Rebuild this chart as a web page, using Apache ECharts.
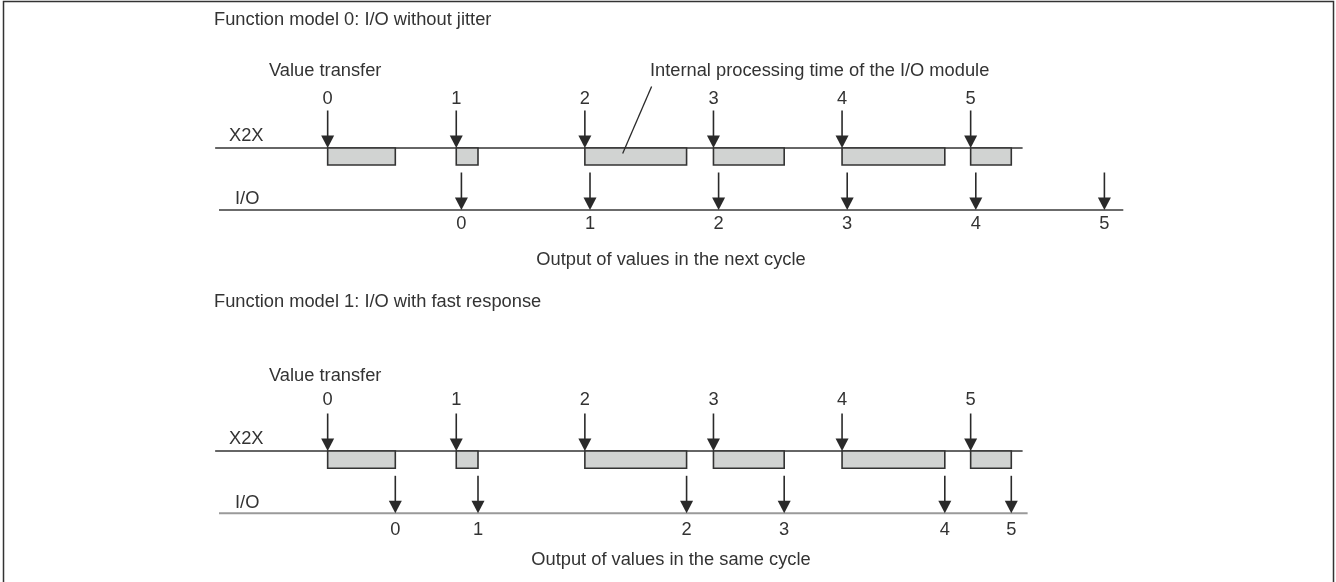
<!DOCTYPE html>
<html><head><meta charset="utf-8">
<script src="https://cdn.jsdelivr.net/npm/echarts@6/dist/echarts.min.js"></script>
<style>html,body{margin:0;padding:0;background:#fff}#c{width:1336px;height:582px}</style>
</head><body><div id="c"></div>
<script>
// ---- data (time in bus cycles; value transfer k happens at t = k) ----
const valueLabels = ['0', '1', '2', '3', '4', '5'];
const transferTimes = [0, 1, 2, 3, 4, 5];
const processingTimes = [0.526, 0.169, 0.791, 0.550, 0.799, 0.316];
const outputTimesModel0 = [1.04, 2.04, 3.04, 4.04, 5.04, 6.04];   // output in the next cycle
const outputTimesModel1 = [0.526, 1.169, 2.791, 3.550, 4.799, 5.316]; // output in the same cycle
const x2xSpan = [-0.875, 5.404];
const ioSpanModel0 = [-0.845, 6.187];
const ioSpanModel1 = [-0.845, 5.443];
const leaderTimes = [2.519, 2.294];
const titles = ['Function model 0: I/O without jitter', 'Function model 1: I/O with fast response'];
const notes = ['Output of values in the next cycle', 'Output of values in the same cycle'];
const processingNote = 'Internal processing time of the I/O module';

// ---- layout ----
const FONT = 'Liberation Sans, Arial, sans-serif';
const FS = 18.3;
const TXT = '#333333';
const INK = '#2a2a2a';
const panels = [
  {titleY: 20, vtY: 71, topNumY: 98.5, x2xLabelY: 136, x2xY: 148, boxBot: 165, ioLabelY: 198.5, ioY: 210, botNumY: 224, noteY: 260, ioColor: '#3a3a3a', ioWidth: 1.4},
  {titleY: 302, vtY: 376, topNumY: 400, x2xLabelY: 439, x2xY: 451, boxBot: 468.3, ioLabelY: 502.5, ioY: 513.3, botNumY: 530, noteY: 560, ioColor: '#9a9a9a', ioWidth: 2}
];
const ARROW_LEN = 37.5, HEAD_H = 12.5, HEAD_W = 13;

function txt(x, y, text, align) {
  return {type: 'text', style: {x: x, y: y, text: text, fill: TXT, fontSize: FS, fontFamily: FONT, align: align || 'center', verticalAlign: 'middle'}};
}

const laneData = [
  [x2xSpan[0], x2xSpan[1], 0, 0], [ioSpanModel0[0], ioSpanModel0[1], 0, 1],
  [x2xSpan[0], x2xSpan[1], 1, 0], [ioSpanModel1[0], ioSpanModel1[1], 1, 1]
];
const boxData = [];
const arrowData = [];
[0, 1].forEach(function (p) {
  transferTimes.forEach(function (t, i) {
    boxData.push([t, t + processingTimes[i], p]);
    arrowData.push([t, p, 0, i]);
  });
  (p === 0 ? outputTimesModel0 : outputTimesModel1).forEach(function (t, i) {
    arrowData.push([t, p, 1, i]);
  });
});

const chart = echarts.init(document.getElementById('c'), null, {renderer: 'canvas'});
chart.setOption({
  animation: false,
  backgroundColor: '#ffffff',
  grid: {left: 0, right: 0, top: 0, bottom: 0},
  xAxis: {type: 'value', min: -2.548, max: 7.841, show: false},
  yAxis: {type: 'value', min: 0, max: 582, inverse: true, show: false},
  graphic: [
    {type: 'polyline', silent: true, shape: {points: [[3.5, 582], [3.5, 1.5], [1333.5, 1.5], [1333.5, 582]]}, style: {stroke: '#333', lineWidth: 1.5, fill: null}},
    txt(214, panels[0].titleY, titles[0], 'left'),
    txt(214, panels[1].titleY, titles[1], 'left'),
    txt(269, panels[0].vtY, 'Value transfer', 'left'),
    txt(269, panels[1].vtY, 'Value transfer', 'left'),
    txt(229, panels[0].x2xLabelY, 'X2X', 'left'),
    txt(229, panels[1].x2xLabelY, 'X2X', 'left'),
    txt(235, panels[0].ioLabelY, 'I/O', 'left'),
    txt(235, panels[1].ioLabelY, 'I/O', 'left'),
    txt(671, panels[0].noteY, notes[0], 'center'),
    txt(671, panels[1].noteY, notes[1], 'center')
  ],
  series: [
    {
      type: 'custom', clip: false, silent: true, data: laneData,
      renderItem: function (params, api) {
        const p = panels[api.value(2)];
        const kind = api.value(3);
        const y = kind === 0 ? p.x2xY : p.ioY;
        const a = api.coord([api.value(0), y]), b = api.coord([api.value(1), y]);
        return {type: 'line', shape: {x1: a[0], y1: a[1], x2: b[0], y2: b[1]},
          style: {stroke: kind === 0 ? '#333' : p.ioColor, lineWidth: kind === 0 ? 1.3 : p.ioWidth}};
      }
    },
    {
      type: 'custom', clip: false, silent: true, data: boxData,
      renderItem: function (params, api) {
        const p = panels[api.value(2)];
        const a = api.coord([api.value(0), p.x2xY]), b = api.coord([api.value(1), p.boxBot]);
        return {type: 'rect', shape: {x: a[0], y: a[1], width: b[0] - a[0], height: b[1] - a[1]},
          style: {fill: '#d1d3d2', stroke: '#333', lineWidth: 1.6}};
      }
    },
    {
      type: 'custom', clip: false, silent: true, data: arrowData,
      renderItem: function (params, api) {
        const p = panels[api.value(1)];
        const kind = api.value(2);
        const label = valueLabels[api.value(3)];
        const tipY = kind === 0 ? p.x2xY : p.ioY;
        const c = api.coord([api.value(0), tipY]);
        const x = c[0], y = c[1];
        return {type: 'group', children: [
          {type: 'line', shape: {x1: x, y1: y - ARROW_LEN, x2: x, y2: y - HEAD_H + 1}, style: {stroke: INK, lineWidth: 1.6}},
          {type: 'polygon', shape: {points: [[x - HEAD_W / 2, y - HEAD_H], [x + HEAD_W / 2, y - HEAD_H], [x, y]]}, style: {fill: INK}},
          txt(x, kind === 0 ? p.topNumY : p.botNumY, label, 'center')
        ]};
      }
    },
    {
      type: 'custom', clip: false, silent: true, data: [[leaderTimes[0], leaderTimes[1]]],
      renderItem: function (params, api) {
        const a = api.coord([api.value(0), 86.5]), b = api.coord([api.value(1), 153.5]);
        return {type: 'group', children: [
          {type: 'line', shape: {x1: a[0], y1: a[1], x2: b[0], y2: b[1]}, style: {stroke: INK, lineWidth: 1.3}},
          txt(a[0] - 1.7, panels[0].vtY, processingNote, 'left')
        ]};
      }
    }
  ]
});
</script>
</body></html>
